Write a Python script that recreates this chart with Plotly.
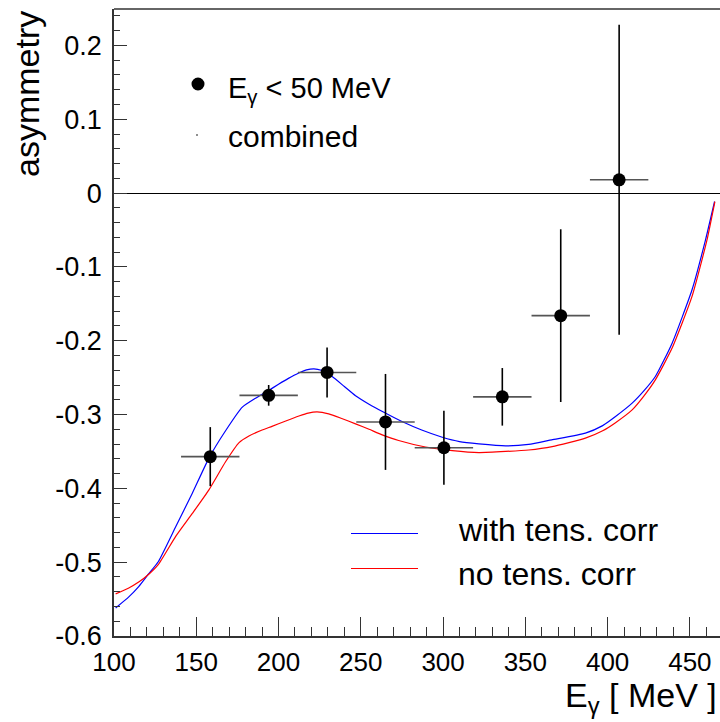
import plotly.graph_objects as go

# ---- data points (E_gamma < 50 MeV) ----
pt_x = [158.5, 194.0, 229.5, 265.0, 300.5, 336.0, 371.5, 407.0]
pt_y = [-0.357, -0.274, -0.243, -0.310, -0.345, -0.276, -0.166, 0.018]
pt_yerr = [0.040, 0.014, 0.034, 0.065, 0.050, 0.039, 0.117, 0.210]
pt_xerr = [17.75] * 8

# ---- model curves ----
blue_x = [101, 109, 115, 121, 127, 137.5, 147.6, 157.7, 167.8, 178, 186, 193.5, 200, 206,
          212, 217, 221.5, 226, 232.6, 240, 246.8, 255, 264, 275, 287, 299.5, 310,
          321.8, 338, 352, 366, 386.5, 397, 404.8, 414.9, 422, 429, 439.2, 451.3,
          459.5, 465]
blue_y = [-0.562, -0.547, -0.533, -0.516, -0.499, -0.452, -0.4065, -0.359, -0.322,
          -0.290, -0.278, -0.268, -0.259, -0.251, -0.244, -0.2395, -0.238, -0.240,
          -0.2485, -0.262, -0.2745, -0.286, -0.297, -0.3095, -0.321, -0.3307, -0.3366,
          -0.3397, -0.3424, -0.3405, -0.3343, -0.3252, -0.315, -0.3027, -0.2846,
          -0.268, -0.2485, -0.2033, -0.131, -0.0633, -0.0114]

red_x = [101, 109, 115, 121.3, 127, 137.5, 147.6, 157.7, 167.8, 176, 182, 190, 196,
         204, 212.4, 218, 223.4, 230.5, 238, 246.8, 255, 263, 273, 289.3, 305.6,
         321.8, 338, 352, 366.3, 386.5, 397, 404.8, 414.9, 422, 429, 439.2, 451.3,
         460.4, 465.2]
red_y = [-0.543, -0.535, -0.527, -0.516, -0.503, -0.465, -0.434, -0.402, -0.364,
         -0.338, -0.329, -0.321, -0.316, -0.309, -0.302, -0.298, -0.2963, -0.299,
         -0.305, -0.3126, -0.320, -0.3275, -0.3352, -0.344, -0.3488, -0.3515, -0.350,
         -0.348, -0.3434, -0.332, -0.322, -0.311, -0.2937, -0.275, -0.253, -0.210,
         -0.140, -0.0633, -0.0114]

x_ticks = [100, 150, 200, 250, 300, 350, 400, 450]
y_ticks = [0.2, 0.1, 0, -0.1, -0.2, -0.3, -0.4, -0.5, -0.6]
y_ticklabels = ["0.2", "0.1", "0", "-0.1", "-0.2", "-0.3", "-0.4", "-0.5", "-0.6"]

FONT = "Liberation Sans, Arial, sans-serif"

fig = go.Figure()

fig.add_trace(go.Scatter(x=blue_x, y=blue_y, mode="lines", name="with tens. corr",
                         line=dict(color="#0000ff", width=1.2, shape="spline", smoothing=0.5),
                         showlegend=False))
fig.add_trace(go.Scatter(x=red_x, y=red_y, mode="lines", name="no tens. corr",
                         line=dict(color="#ff0000", width=1.2, shape="spline", smoothing=0.5),
                         showlegend=False))
fig.add_trace(go.Scatter(
    x=pt_x, y=pt_y, mode="markers", name="E<sub>γ</sub> < 50 MeV",
    marker=dict(color="black", size=13),
    error_y=dict(type="data", array=pt_yerr, color="black", thickness=1.6, width=0),
    error_x=dict(type="data", array=pt_xerr, color="#555555", thickness=1.6, width=0),
    showlegend=False))

W, H = 720, 722
L, R, T, B = 114, 0, 9, 86
pw, ph = W - L - R, H - T - B

def px(xp):
    return (xp - L) / pw

def py(yp):
    return (H - B - yp) / ph

shapes = [
    # top frame line
    dict(type="line", xref="paper", yref="paper", x0=0, x1=1, y0=1, y1=1,
         line=dict(color="#333333", width=1.5)),
    # legend symbols
    dict(type="circle", xref="paper", yref="paper", xsizemode="pixel", ysizemode="pixel",
         xanchor=px(198), yanchor=py(84), x0=-6.5, x1=6.5, y0=-6.5, y1=6.5,
         fillcolor="black", line=dict(color="black", width=0)),
    dict(type="circle", xref="paper", yref="paper", xsizemode="pixel", ysizemode="pixel",
         xanchor=px(197), yanchor=py(135), x0=-0.8, x1=0.8, y0=-0.8, y1=0.8,
         fillcolor="black", line=dict(color="black", width=0)),
    dict(type="line", xref="paper", yref="paper", x0=px(351), x1=px(418),
         y0=py(533.5), y1=py(533.5), line=dict(color="#0000ff", width=1.2)),
    dict(type="line", xref="paper", yref="paper", x0=px(351), x1=px(418),
         y0=py(568.5), y1=py(568.5), line=dict(color="#ff0000", width=1.2)),
]

annotations = [
    dict(text="asymmetry", textangle=-90, xref="paper", yref="paper",
         x=px(27), y=py(9), xanchor="center", yanchor="top", showarrow=False,
         font=dict(family=FONT, size=34, color="black")),
    dict(text="E<sub>γ</sub> [ MeV ]", xref="paper", yref="paper",
         x=px(719), y=py(697), xanchor="right", yanchor="middle", showarrow=False,
         font=dict(family=FONT, size=34, color="black")),
    dict(text="E<sub>γ</sub> &lt; 50 MeV", xref="paper", yref="paper",
         x=px(226), y=py(90), xanchor="left", yanchor="middle", showarrow=False,
         font=dict(family=FONT, size=29, color="black")),
    dict(text="combined", xref="paper", yref="paper",
         x=px(226), y=py(136), xanchor="left", yanchor="middle", showarrow=False,
         font=dict(family=FONT, size=30, color="black")),
    dict(text="with tens. corr", xref="paper", yref="paper",
         x=px(456), y=py(530), xanchor="left", yanchor="middle", showarrow=False,
         font=dict(family=FONT, size=32, color="black")),
    dict(text="no tens. corr", xref="paper", yref="paper",
         x=px(456), y=py(574), xanchor="left", yanchor="middle", showarrow=False,
         font=dict(family=FONT, size=32, color="black")),
]

fig.update_layout(
    width=W, height=H,
    margin=dict(l=L, r=R, t=T, b=B, pad=0),
    paper_bgcolor="white", plot_bgcolor="white",
    font=dict(family=FONT, color="black"),
    shapes=shapes, annotations=annotations,
    showlegend=False,
)

fig.update_xaxes(
    range=[100, 468.3], showgrid=False, zeroline=False,
    showline=True, linecolor="#333333", linewidth=1.5, mirror=False,
    tickmode="array", tickvals=x_ticks, ticktext=[str(v) for v in x_ticks],
    ticks="inside", ticklen=19, tickwidth=1, tickcolor="#333333",
    minor=dict(ticks="inside", ticklen=9, dtick=10, tick0=100, tickcolor="#333333", tickwidth=1),
    tickfont=dict(family=FONT, size=26, color="black"),
    ticklabelstandoff=2,
)
fig.update_yaxes(
    range=[-0.6, 0.2494], showgrid=False,
    zeroline=True, zerolinecolor="black", zerolinewidth=1,
    showline=True, linecolor="#333333", linewidth=1.5, mirror=False,
    tickmode="array", tickvals=y_ticks, ticktext=y_ticklabels,
    ticks="inside", ticklen=13, tickwidth=1, tickcolor="#333333",
    minor=dict(ticks="inside", ticklen=6, dtick=0.02, tick0=0, tickcolor="#333333", tickwidth=1),
    tickfont=dict(family=FONT, size=27, color="black"),
    ticklabelstandoff=5,
)

fig.write_html("out.html", config={"displayModeBar": False},
               post_script="document.body.style.margin='0';document.body.style.overflow='hidden';")
